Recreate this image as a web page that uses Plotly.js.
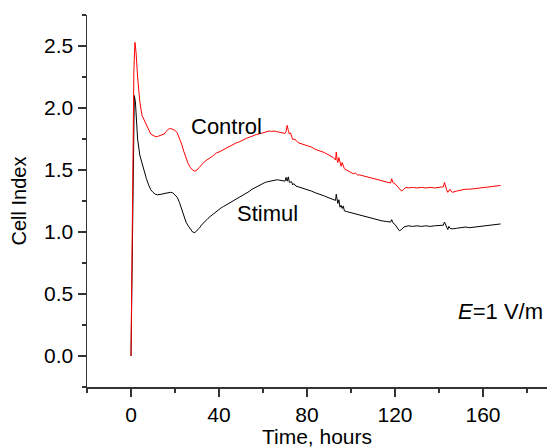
<!DOCTYPE html>
<html><head><meta charset="utf-8">
<script src="https://cdn.plot.ly/plotly-3.0.1.min.js"></script>
<style>html,body{margin:0;padding:0;background:#fff}#chart{width:547px;height:448px}</style>
</head><body><div id="chart"></div>
<script>
const controlX = [0,0.3,0.8,1.3,1.8,2.3,3,4,5,6,7,8,9,10,11,12,13,14,15,16,17,18,19,20,21,22,23,24,25,26,27,28,29,30,31,32,33,34,35,36,37,38,39,40,41,42,43,44,45,46,47,48,49,50,51,52,53,54,55,56,57,58,59,60,61,62,63,64,65,66,67,68,69,70,70.5,71,71.5,72,72.5,73,73.5,74,75,76,77,78,80,82,84,86,88,90,92,93,93.3,93.7,94,94.5,95,95.5,96,96.5,97,98,99,100,101,102,103,104,105,106,108,110,112,114,116,118,118.5,119,120,121,122,123,124,125,126,128,130,132,134,136,138,140,142,142.5,143,143.5,144,145,145.5,146,148,150,152,154,156,158,160,162,164,166,168];
const controlY = [0,0.6,1.6,2.3,2.53,2.45,2.25,2.05,1.94,1.9,1.86,1.82,1.79,1.78,1.77,1.77,1.775,1.78,1.79,1.81,1.83,1.835,1.83,1.82,1.8,1.76,1.71,1.65,1.6,1.55,1.52,1.5,1.49,1.5,1.52,1.545,1.56,1.575,1.585,1.6,1.61,1.625,1.64,1.645,1.655,1.665,1.67,1.685,1.69,1.705,1.71,1.72,1.725,1.735,1.745,1.75,1.76,1.765,1.775,1.78,1.785,1.79,1.8,1.8,1.81,1.81,1.815,1.81,1.815,1.81,1.805,1.8,1.8,1.795,1.81,1.86,1.82,1.79,1.8,1.76,1.745,1.75,1.74,1.72,1.715,1.71,1.7,1.685,1.665,1.655,1.64,1.62,1.6,1.58,1.645,1.58,1.56,1.6,1.55,1.53,1.56,1.54,1.51,1.5,1.49,1.48,1.47,1.475,1.46,1.46,1.455,1.45,1.44,1.43,1.42,1.41,1.405,1.395,1.43,1.4,1.39,1.37,1.35,1.33,1.345,1.36,1.355,1.36,1.355,1.36,1.355,1.36,1.355,1.36,1.365,1.4,1.36,1.34,1.32,1.345,1.33,1.32,1.33,1.34,1.345,1.345,1.35,1.355,1.36,1.365,1.37,1.37,1.375];
const stimulX = [0,0.3,0.8,1.2,1.5,2,2.5,3,4,5,6,7,8,9,10,11,12,13,14,15,16,17,18,19,20,21,22,23,24,25,26,27,28,29,30,31,32,33,34,35,36,37,38,39,40,41,42,43,44,45,46,47,48,49,50,51,52,53,54,55,56,57,58,59,60,61,62,63,64,65,66,67,68,69,70,70.5,71,71.5,72,73,73.5,74,75,76,78,80,82,84,86,88,90,92,93,93.3,93.7,94,94.5,95,95.5,96,96.5,97,98,100,102,104,106,108,110,112,114,116,118,118.5,119,120,121,122,123,124,126,128,130,132,134,136,138,140,142,142.5,143,143.5,144,144.5,145,146,148,150,152,154,156,158,160,162,164,166,168];
const stimulY = [0,0.5,1.3,1.9,2.1,2.05,1.9,1.75,1.62,1.55,1.5,1.43,1.38,1.34,1.32,1.305,1.3,1.3,1.305,1.31,1.315,1.32,1.32,1.315,1.3,1.28,1.24,1.18,1.12,1.08,1.05,1.02,1.0,0.995,1.01,1.03,1.055,1.075,1.09,1.11,1.125,1.14,1.155,1.17,1.18,1.195,1.205,1.215,1.225,1.235,1.25,1.26,1.27,1.28,1.29,1.3,1.31,1.32,1.33,1.345,1.355,1.365,1.37,1.38,1.39,1.4,1.405,1.41,1.415,1.42,1.42,1.42,1.415,1.41,1.41,1.44,1.41,1.445,1.4,1.405,1.38,1.39,1.37,1.365,1.355,1.345,1.33,1.315,1.305,1.29,1.275,1.265,1.255,1.305,1.25,1.23,1.26,1.2,1.215,1.19,1.21,1.17,1.165,1.155,1.145,1.135,1.125,1.115,1.105,1.1,1.09,1.085,1.08,1.1,1.075,1.06,1.035,1.01,1.02,1.04,1.05,1.045,1.05,1.045,1.05,1.045,1.05,1.05,1.055,1.08,1.05,1.04,1.02,1.045,1.03,1.025,1.03,1.035,1.04,1.035,1.04,1.045,1.05,1.055,1.06,1.06,1.065];
const xTickVals = [0,40,80,120,160];
const yTickVals = [0,0.5,1,1.5,2,2.5];

const fam = 'Liberation Sans, Arial, sans-serif';
const tickFont = {family:fam, size:21, color:'#000'};
const xTitleFont = {family:fam, size:21, color:'#000'};
const yTitleFont = {family:fam, size:20, color:'#000'};
const annFont = {family:fam, size:22, color:'#000'};
const traces = [
  {x:stimulX, y:stimulY, type:'scatter', mode:'lines', line:{color:'#000000', width:1}, name:'Stimul'},
  {x:controlX, y:controlY, type:'scatter', mode:'lines', line:{color:'#ff0000', width:1}, name:'Control'}
];
const axisCommon = {showgrid:false, zeroline:false, showline:true, linecolor:'#333', linewidth:1.5,
  ticks:'outside', tickcolor:'#333', tickwidth:1.5, ticklen:8, tickfont:tickFont};
const layout = {
  width:547, height:448, margin:{l:87, r:0, t:15, b:61},
  paper_bgcolor:'#fff', plot_bgcolor:'#fff', showlegend:false, font:tickFont,
  xaxis:Object.assign({}, axisCommon, {range:[-20,189.1], tickvals:xTickVals,
    minor:{tickvals:[-20,20,60,100,140,180], ticks:'outside', ticklen:4, tickcolor:'#333', tickwidth:1.5},
    title:{text:'Time, hours', font:xTitleFont, standoff:5}}),
  yaxis:Object.assign({}, axisCommon, {range:[-0.25,2.75], tickvals:yTickVals, tickformat:'.1f',
    minor:{tickvals:[-0.25,0.25,0.75,1.25,1.75,2.25,2.75], ticks:'outside', ticklen:4, tickcolor:'#333', tickwidth:1.5},
    title:{text:'Cell Index', font:yTitleFont, standoff:12}}),
  annotations:[
    {x:43.2, y:1.85, xref:'x', yref:'y', text:'Control', showarrow:false, font:annFont},
    {x:62, y:1.15, xref:'x', yref:'y', text:'Stimul', showarrow:false, font:annFont},
    {x:1, y:0.36, xref:'paper', yref:'y', xanchor:'right', text:'<i>E</i>=1 V/m', showarrow:false, font:annFont, xshift:-2}
  ]
};
Plotly.newPlot('chart', traces, layout, {displayModeBar:false, staticPlot:true});
</script></body></html>
